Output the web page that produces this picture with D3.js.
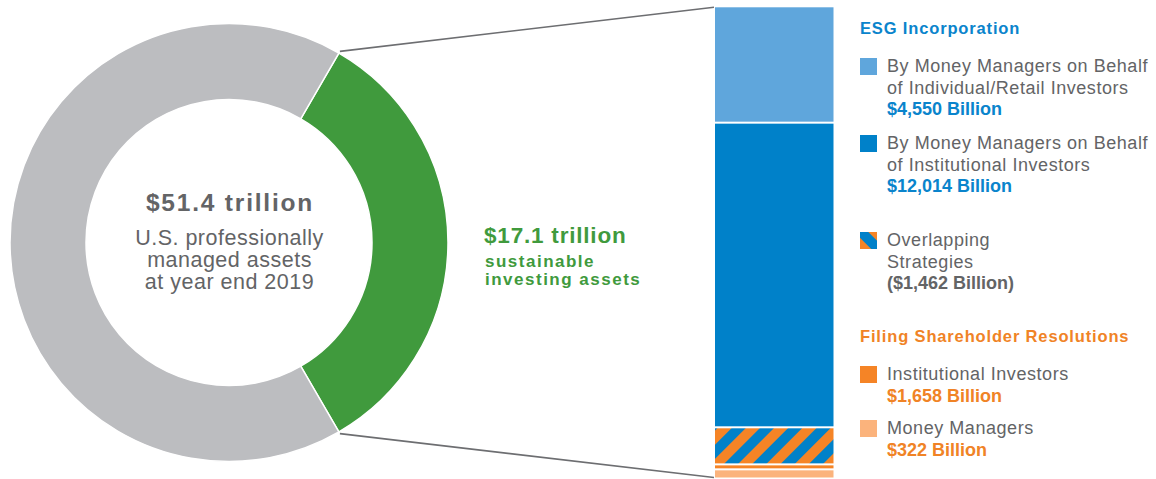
<!DOCTYPE html>
<html>
<head>
<meta charset="utf-8">
<script src="https://cdn.jsdelivr.net/npm/d3@7"></script>
<style>
  body { margin: 0; background: #fff; }
  svg { display: block; font-family: "Liberation Sans", Arial, Helvetica, sans-serif; }
</style>
</head>
<body>
<div id="chart"></div>
<script>
var svgWidth = 1156;
var svgHeight = 479;

// donut: sustainable vs rest of professionally managed assets (trillions)
var donutNames = ["sustainable", "other"];
var donutValues = [17.1, 34.3];
var donutColors = ["#409a3d", "#bcbdc0"];

// stacked bar segments (billions), top to bottom
var segmentNames = ["retail", "institutional", "overlap", "shareholderInst", "shareholderMM"];
var segmentValues = [4550, 12014, 1462, 196, 322];
var segmentFills = ["#5fa6dc", "#0081c9", "url(#hatch)", "#f58426", "#fbb37c"];

// legend text
var legendTitles = ["ESG Incorporation", "Filing Shareholder Resolutions"];
var legendLabels = [
  ["By Money Managers on Behalf", "of Individual/Retail Investors"],
  ["By Money Managers on Behalf", "of Institutional Investors"],
  ["Overlapping", "Strategies"],
  ["Institutional Investors"],
  ["Money Managers"]
];
var legendAmounts = ["$4,550 Billion", "$12,014 Billion", "($1,462 Billion)", "$1,658 Billion", "$322 Billion"];

var textGray = "#636466";
var blueTitle = "#0a84cc";
var orangeTitle = "#f08326";

var svg = d3.select("#chart")
  .append("svg")
  .attr("width", svgWidth)
  .attr("height", svgHeight);

// hatch patterns for overlapping strategies
var defs = svg.append("defs");
function addHatch(id, angle) {
  var p = defs.append("pattern")
    .attr("id", id)
    .attr("patternUnits", "userSpaceOnUse")
    .attr("width", 20)
    .attr("height", 20)
    .attr("patternTransform", "rotate(" + angle + ")");
  p.append("rect").attr("width", 10).attr("height", 20).attr("fill", "#0081c9");
  p.append("rect").attr("x", 10).attr("width", 10).attr("height", 20).attr("fill", "#f58426");
}
addHatch("hatch", 45);
addHatch("hatchSmall", -45);

// ---- donut ----
var cx = 229, cy = 242.5;
var outerR = 219, innerR = 143;
var span = donutValues[0] / d3.sum(donutValues) * 2 * Math.PI;
var startA = Math.PI / 2 - span / 2;

var pie = d3.pie()
  .sort(null)
  .value(d => d)
  .startAngle(startA)
  .endAngle(startA + 2 * Math.PI);

var arc = d3.arc()
  .innerRadius(innerR)
  .outerRadius(outerR);

var donut = svg.append("g")
  .attr("transform", `translate(${cx}, ${cy})`);

var arcs = pie(donutValues);

donut.selectAll("path")
  .data(arcs)
  .enter()
  .append("path")
  .attr("d", arc)
  .attr("fill", (d, i) => donutColors[i])
  .attr("stroke", "#fff")
  .attr("stroke-width", 1.5);

// center text
var center = donut.append("g").attr("text-anchor", "middle").attr("fill", textGray);
center.append("text")
  .attr("x", 1)
  .attr("y", -32)
  .attr("font-size", 24.5)
  .attr("font-weight", "bold")
  .attr("letter-spacing", 1.8)
  .text("$51.4 trillion");
["U.S. professionally", "managed assets", "at year end 2019"].forEach(function(t, i) {
  center.append("text")
    .attr("x", 0.5)
    .attr("y", 2.5 + i * 22)
    .attr("font-size", 21.5)
    .attr("letter-spacing", 0.5)
    .text(t);
});

// green label
var greenLabel = svg.append("g").attr("fill", donutColors[0]).attr("font-weight", "bold");
greenLabel.append("text").attr("x", 484).attr("y", 242.5).attr("font-size", 22.5)
  .attr("letter-spacing", 0.8).text("$17.1 trillion");
greenLabel.append("text").attr("x", 485).attr("y", 266.5).attr("font-size", 17)
  .attr("letter-spacing", 1.5).text("sustainable");
greenLabel.append("text").attr("x", 485).attr("y", 284.5).attr("font-size", 17)
  .attr("letter-spacing", 1.5).text("investing assets");

// ---- stacked bar ----
var barX = d3.scaleLinear().domain([0, 1]).range([715, 833.5]);
var total = d3.sum(segmentValues);
var barY = d3.scaleLinear().domain([0, total]).range([7.3, 477.5]);

var stacked = [];
var acc = 0;
segmentValues.forEach(function(v, i) {
  stacked.push({ name: segmentNames[i], y0: acc, y1: acc + v, fill: segmentFills[i] });
  acc += v;
});

var gap = 1;
svg.append("g").selectAll("rect")
  .data(stacked)
  .enter()
  .append("rect")
  .attr("x", barX(0))
  .attr("width", barX(1) - barX(0))
  .attr("y", (d, i) => barY(d.y0) + (i > 0 ? gap : 0))
  .attr("height", (d, i) => barY(d.y1) - barY(d.y0) - (i > 0 ? gap : 0) - (i < stacked.length - 1 ? gap : 0))
  .attr("fill", d => d.fill);

// connector lines from donut split to bar ends
var topPt = [cx + (outerR + 2) * Math.sin(arcs[0].startAngle), cy - (outerR + 2) * Math.cos(arcs[0].startAngle)];
var botPt = [cx + (outerR + 2) * Math.sin(arcs[0].endAngle), cy - (outerR + 2) * Math.cos(arcs[0].endAngle)];
svg.append("line")
  .attr("x1", topPt[0]).attr("y1", topPt[1])
  .attr("x2", barX(0) - 1).attr("y2", barY(0))
  .attr("stroke", "#6d6e71").attr("stroke-width", 1.6);
svg.append("line")
  .attr("x1", botPt[0]).attr("y1", botPt[1])
  .attr("x2", barX(0) - 1).attr("y2", barY(total))
  .attr("stroke", "#6d6e71").attr("stroke-width", 1.6);

// ---- legend ----
var legend = svg.append("g");
var lx = 860, tx = 887;
var swatchFills = ["#5fa6dc", "#0081c9", "url(#hatchSmall)", "#f58426", "#fbb37c"];
var amountColors = [blueTitle, blueTitle, textGray, orangeTitle, orangeTitle];
var itemTops = [72, 149, 246, 380, 434];
var lineH = 21.5;

legend.append("text").attr("x", lx).attr("y", 34)
  .attr("font-size", 16.5).attr("font-weight", "bold").attr("fill", blueTitle)
  .attr("letter-spacing", 0.85)
  .text(legendTitles[0]);
legend.append("text").attr("x", lx).attr("y", 342)
  .attr("font-size", 16.5).attr("font-weight", "bold").attr("fill", orangeTitle)
  .attr("letter-spacing", 0.85)
  .text(legendTitles[1]);

legendLabels.forEach(function(lines, i) {
  var by = itemTops[i];
  legend.append("rect")
    .attr("x", lx).attr("y", by - 14)
    .attr("width", 17).attr("height", 17)
    .attr("fill", swatchFills[i]);
  lines.forEach(function(t, j) {
    legend.append("text").attr("x", tx).attr("y", by + j * lineH)
      .attr("font-size", 18).attr("letter-spacing", 0.55)
      .attr("fill", textGray).text(t);
  });
  legend.append("text").attr("x", tx).attr("y", by + lines.length * lineH)
    .attr("font-size", 18).attr("font-weight", "bold").attr("fill", amountColors[i])
    .text(legendAmounts[i]);
});
</script>
</body>
</html>
